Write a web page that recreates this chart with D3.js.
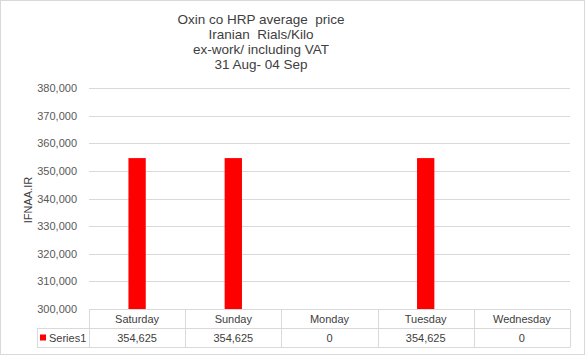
<!DOCTYPE html>
<html><head><meta charset="utf-8">
<script src="https://cdn.jsdelivr.net/npm/d3@7"></script>
<style>body{margin:0;background:#fff}svg{display:block}text{font-family:"Liberation Sans",Arial,sans-serif;white-space:pre}</style>
</head><body><div id="chart"></div>
<script>
const titleLines = ["Oxin co HRP average  price", "Iranian  Rials/Kilo", "ex-work/ including VAT", "31 Aug- 04 Sep"];
const categories = ["Saturday", "Sunday", "Monday", "Tuesday", "Wednesday"];
const seriesName = "Series1";
const values = [354625, 354625, 0, 354625, 0];
const yTicks = [300000, 310000, 320000, 330000, 340000, 350000, 360000, 370000, 380000];
const yLabel = "IFNAA.IR";

(function () {
const W = 585, H = 355;
const pLeft = 89, pRight = 570, pTop = 88, pBottom = 309;
const rowH = 19, legendLeft = 37;

const svg = d3.select("#chart").append("svg").attr("width", W).attr("height", H);
svg.append("rect").attr("x", 0.5).attr("y", 0.5).attr("width", W - 1).attr("height", H - 1)
  .attr("fill", "#fff").attr("stroke", "#d9d9d9");

const x = d3.scaleBand().domain(categories).range([pLeft, pRight]).padding(0);
const y = d3.scaleLinear().domain([300000, 380000]).range([pBottom, pTop]);
const fmt = d3.format(",");

svg.append("g").selectAll("text").data(titleLines).join("text")
  .attr("x", 261).attr("y", (d, i) => 24 + i * 15)
  .attr("text-anchor", "middle").attr("font-size", 13.5).attr("fill", "#404040")
  .attr("xml:space", "preserve")
  .text(d => d);

svg.append("g").selectAll("line").data(yTicks).join("line")
  .attr("x1", pLeft).attr("x2", pRight)
  .attr("y1", d => Math.round(y(d)) + 0.5).attr("y2", d => Math.round(y(d)) + 0.5)
  .attr("stroke", "#d9d9d9");

const yAxis = d3.axisLeft(y).tickValues(yTicks).tickFormat(fmt).tickSize(0).tickPadding(12);
const ya = svg.append("g").attr("transform", `translate(${pLeft},0)`).call(yAxis);
ya.select(".domain").remove();
ya.selectAll("text").attr("font-size", 11).attr("fill", "#595959").attr("font-family", "Liberation Sans, Arial, sans-serif");

svg.append("text").attr("transform", `translate(32,200) rotate(-90)`)
  .attr("text-anchor", "middle").attr("font-size", 11).attr("fill", "#404040").text(yLabel);

svg.append("clipPath").attr("id", "clip").append("rect")
  .attr("x", pLeft).attr("y", pTop).attr("width", pRight - pLeft).attr("height", pBottom - pTop);
const bw = x.bandwidth() * 0.18;
svg.append("g").attr("clip-path", "url(#clip)").selectAll("rect").data(values).join("rect")
  .attr("x", (d, i) => x(categories[i]) + x.bandwidth() / 2 - bw / 2)
  .attr("width", bw)
  .attr("y", d => Math.min(y(d), pBottom))
  .attr("height", d => Math.max(0, pBottom - y(d)))
  .attr("fill", "#ff0000");

const t = svg.append("g").attr("stroke", "#d9d9d9").attr("fill", "none");
const r1 = pBottom + 0.5, r2 = pBottom + rowH + 0.5, r3 = pBottom + 2 * rowH + 0.5;
t.append("line").attr("x1", pLeft).attr("x2", pRight).attr("y1", r1).attr("y2", r1);
t.append("line").attr("x1", legendLeft).attr("x2", pRight).attr("y1", r2).attr("y2", r2);
t.append("line").attr("x1", legendLeft).attr("x2", pRight).attr("y1", r3).attr("y2", r3);
t.append("line").attr("x1", legendLeft + 0.5).attr("x2", legendLeft + 0.5).attr("y1", r2).attr("y2", r3);
const edges = categories.map(c => Math.round(x(c)) + 0.5).concat([pRight + 0.5]);
t.selectAll(".v").data(edges).join("line").attr("class", "v")
  .attr("x1", d => d).attr("x2", d => d).attr("y1", r1).attr("y2", r3);

svg.append("g").selectAll("text").data(categories).join("text")
  .attr("x", d => x(d) + x.bandwidth() / 2).attr("y", pBottom + rowH / 2 + 4)
  .attr("text-anchor", "middle").attr("font-size", 11).attr("fill", "#404040").text(d => d);
svg.append("g").selectAll("text").data(values).join("text")
  .attr("x", (d, i) => x(categories[i]) + x.bandwidth() / 2).attr("y", pBottom + rowH * 1.5 + 4)
  .attr("text-anchor", "middle").attr("font-size", 11).attr("fill", "#404040").text(d => fmt(d));

svg.append("rect").attr("x", legendLeft + 3).attr("y", pBottom + rowH * 1.5 - 3).attr("width", 6).attr("height", 6).attr("fill", "#ff0000");
svg.append("text").attr("x", legendLeft + 12).attr("y", pBottom + rowH * 1.5 + 4)
  .attr("font-size", 11).attr("fill", "#404040").text(seriesName);
})();
</script></body></html>
